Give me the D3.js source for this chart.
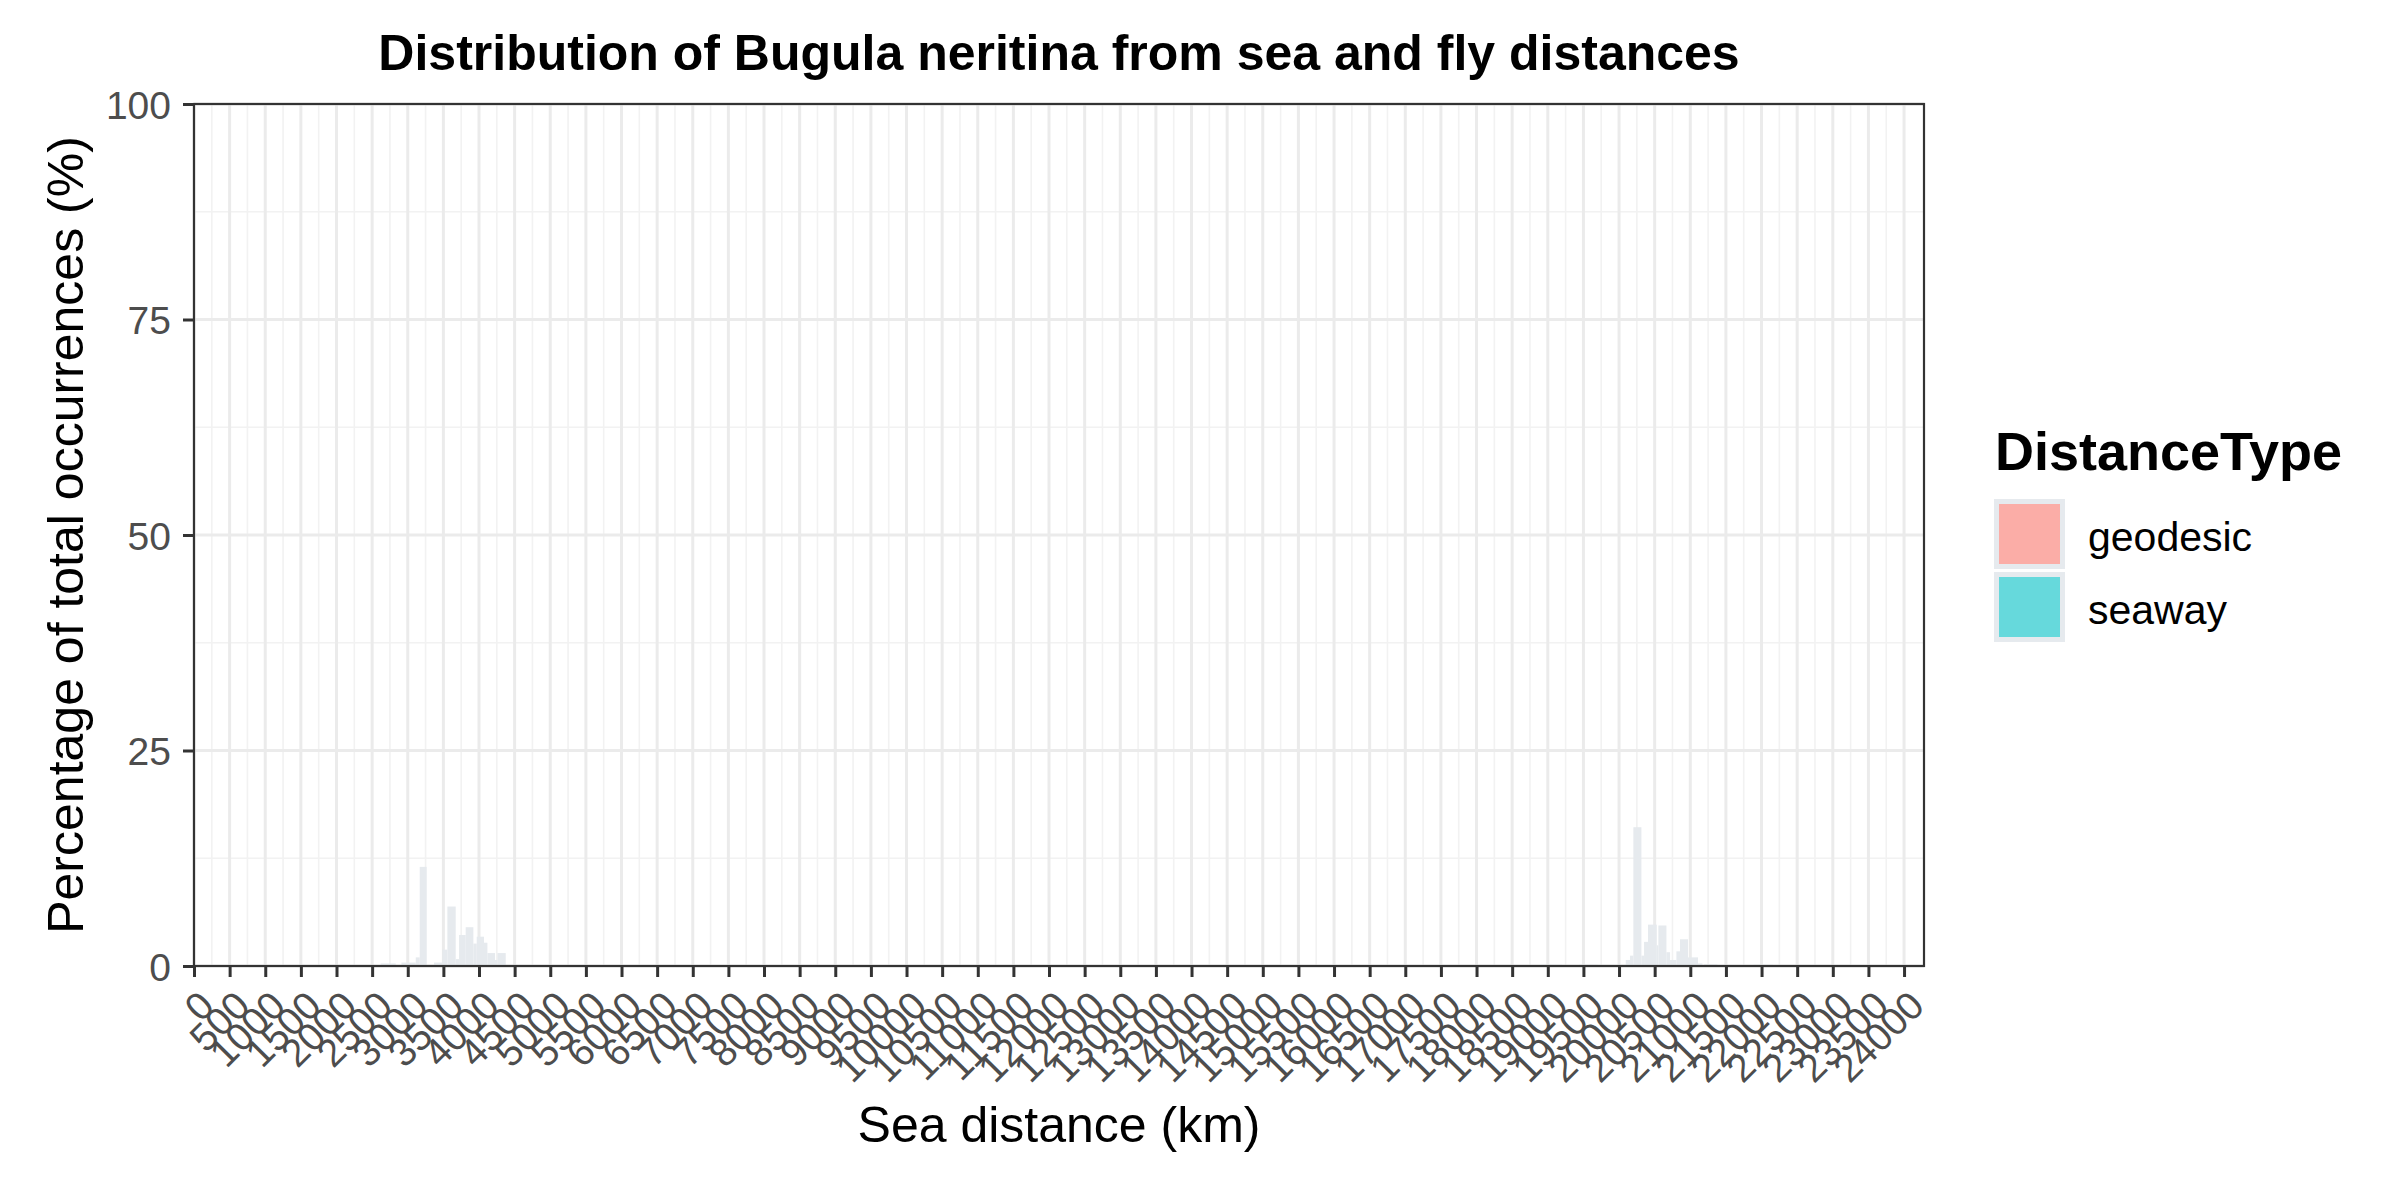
<!DOCTYPE html>
<html>
<head>
<meta charset="utf-8">
<script src="https://cdn.jsdelivr.net/npm/d3@7"></script>
<style>
  html, body { margin: 0; padding: 0; background: #ffffff; }
  svg { display: block; }
  text { font-family: "Liberation Sans", Arial, Helvetica, sans-serif; }
</style>
</head>
<body>
<svg id="chart" width="2400" height="1200"></svg>
<script>
// ---------------- data ----------------
const chartTitle = "Distribution of Bugula neritina from sea and fly distances";
const xAxisTitle = "Sea distance (km)";
const yAxisTitle = "Percentage of total occurrences (%)";
const legendTitle = "DistanceType";
const distanceTypes = ["geodesic", "seaway"];
const distanceTypeFills = ["#FBADA7", "#66D9DC"];

const xTickValues = [0, 500, 1000, 1500, 2000, 2500, 3000, 3500, 4000, 4500, 5000, 5500, 6000, 6500,
  7000, 7500, 8000, 8500, 9000, 9500, 10000, 10500, 11000, 11500, 12000, 12500, 13000, 13500,
  14000, 14500, 15000, 15500, 16000, 16500, 17000, 17500, 18000, 18500, 19000, 19500, 20000,
  20500, 21000, 21500, 22000, 22500, 23000, 23500, 24000];
const yTickValues = [0, 25, 50, 75, 100];
const yMinorValues = [12.5, 37.5, 62.5, 87.5];

// histogram blocks as seen in the picture (km start, km end, % of occurrences)
const binStartKm = [2620, 2911, 3112, 3168, 3368, 3486, 3556, 3673, 3720, 3813, 3921, 3968, 4070, 4118, 4225, 4258,
  18900, 19440,
  20094, 20154, 20201, 20314, 20351, 20407, 20529, 20552, 20665, 20716, 20805, 20856, 20968, 21108, 21193,
  21890];
const binEndKm = [2831, 3112, 3168, 3266, 3486, 3556, 3673, 3720, 3813, 3921, 3968, 4070, 4118, 4225, 4258, 4375,
  19200, 19700,
  20154, 20201, 20314, 20351, 20407, 20529, 20552, 20665, 20716, 20805, 20856, 20968, 21108, 21170, 21380,
  22160];
const pctOccurrence = [0.3, 0.4, 1.0, 11.5, 0.4, 1.9, 6.9, 0.8, 3.6, 4.5, 2.6, 3.4, 2.7, 1.5, 0.7, 1.5,
  0.15, 0.15,
  0.7, 1.2, 16.1, 1.2, 2.8, 4.8, 2.4, 4.7, 1.6, 0.7, 1.7, 3.1, 1.0, 0.3, 0.2,
  0.15];

// ---------------- layout ----------------
const panel = { left: 194, right: 1924, top: 104, bottom: 966 };
const xMaxKm = 24280;
const barColor = "#e6eaee";
const gridMajor = "#ebebeb";
const gridMinor = "#f2f2f2";
const axisDark = "#333333";
const tickText = "#4d4d4d";

const svg = d3.select("#chart");
const x = d3.scaleLinear().domain([0, xMaxKm]).range([panel.left, panel.right]);
const y = d3.scaleLinear().domain([0, 100]).range([panel.bottom, panel.top]);

// grid
const xMinorValues = xTickValues.slice(0, -1).map(v => v + 250);
const grid = svg.append("g");
grid.selectAll(".ymin").data(yMinorValues).join("line")
  .attr("x1", panel.left).attr("x2", panel.right)
  .attr("y1", d => y(d)).attr("y2", d => y(d))
  .attr("stroke", gridMinor).attr("stroke-width", 1.6);
grid.selectAll(".xmin").data(xMinorValues).join("line")
  .attr("y1", panel.top).attr("y2", panel.bottom)
  .attr("x1", d => x(d)).attr("x2", d => x(d))
  .attr("stroke", gridMinor).attr("stroke-width", 1.6);
grid.selectAll(".ymaj").data(yTickValues).join("line")
  .attr("x1", panel.left).attr("x2", panel.right)
  .attr("y1", d => y(d)).attr("y2", d => y(d))
  .attr("stroke", gridMajor).attr("stroke-width", 3);
grid.selectAll(".xmaj").data(xTickValues).join("line")
  .attr("y1", panel.top).attr("y2", panel.bottom)
  .attr("x1", d => x(d)).attr("x2", d => x(d))
  .attr("stroke", gridMajor).attr("stroke-width", 3);

// bars
const bins = binStartKm.map((s, i) => ({ s, e: binEndKm[i], v: pctOccurrence[i] }));
svg.append("g").selectAll("rect").data(bins).join("rect")
  .attr("x", d => x(d.s))
  .attr("width", d => x(d.e) - x(d.s))
  .attr("y", d => y(d.v))
  .attr("height", d => y(0) - y(d.v))
  .attr("fill", barColor);

// panel border
svg.append("rect")
  .attr("x", panel.left).attr("y", panel.top)
  .attr("width", panel.right - panel.left).attr("height", panel.bottom - panel.top)
  .attr("fill", "none").attr("stroke", axisDark).attr("stroke-width", 2.2);

// y axis
const yAxis = d3.axisLeft(y).tickValues(yTickValues).tickSize(11).tickPadding(12).tickFormat(d3.format("d"));
const gy = svg.append("g").attr("transform", `translate(${panel.left},0)`).call(yAxis);
gy.select(".domain").remove();
gy.selectAll(".tick line").attr("stroke", axisDark).attr("stroke-width", 3);
gy.selectAll(".tick text").attr("fill", tickText).attr("font-size", 39)
  .attr("font-family", "'Liberation Sans', Arial, sans-serif").attr("dy", "0.36em");

// x axis
const xAxis = d3.axisBottom(x).tickValues(xTickValues).tickSize(11).tickFormat(d3.format("d"));
const gx = svg.append("g").attr("transform", `translate(0,${panel.bottom})`).call(xAxis);
gx.select(".domain").remove();
gx.selectAll(".tick line").attr("stroke", axisDark).attr("stroke-width", 3);
gx.selectAll(".tick text")
  .attr("fill", tickText).attr("font-size", 39)
  .attr("font-family", "'Liberation Sans', Arial, sans-serif")
  .attr("text-anchor", "end")
  .attr("x", 0).attr("y", 0).attr("dy", "0.72em")
  .attr("transform", "translate(2,22) rotate(-45)");

// titles
svg.append("text").attr("x", (panel.left + panel.right) / 2).attr("y", 70)
  .attr("text-anchor", "middle").attr("font-size", 50).attr("font-weight", "bold")
  .attr("fill", "#000").text(chartTitle);
svg.append("text").attr("x", (panel.left + panel.right) / 2).attr("y", 1142)
  .attr("text-anchor", "middle").attr("font-size", 50).attr("fill", "#000").text(xAxisTitle);
svg.append("text").attr("transform", `translate(83,${(panel.top + panel.bottom) / 2}) rotate(-90)`)
  .attr("text-anchor", "middle").attr("font-size", 50).attr("fill", "#000").text(yAxisTitle);

// legend
const lg = svg.append("g");
lg.append("text").attr("x", 1995).attr("y", 470).attr("font-size", 54).attr("font-weight", "bold")
  .attr("fill", "#000").text(legendTitle);
const keyTop = [499, 572];
lg.selectAll(".key").data(distanceTypes).join("rect")
  .attr("x", 1996.5).attr("y", (d, i) => keyTop[i] + 2.5)
  .attr("width", 66).attr("height", 65)
  .attr("fill", (d, i) => distanceTypeFills[i])
  .attr("stroke", barColor).attr("stroke-width", 5);
lg.selectAll(".lab").data(distanceTypes).join("text")
  .attr("x", 2088).attr("y", (d, i) => keyTop[i] + 52)
  .attr("font-size", 41).attr("fill", "#000").text(d => d);
</script>
</body>
</html>
